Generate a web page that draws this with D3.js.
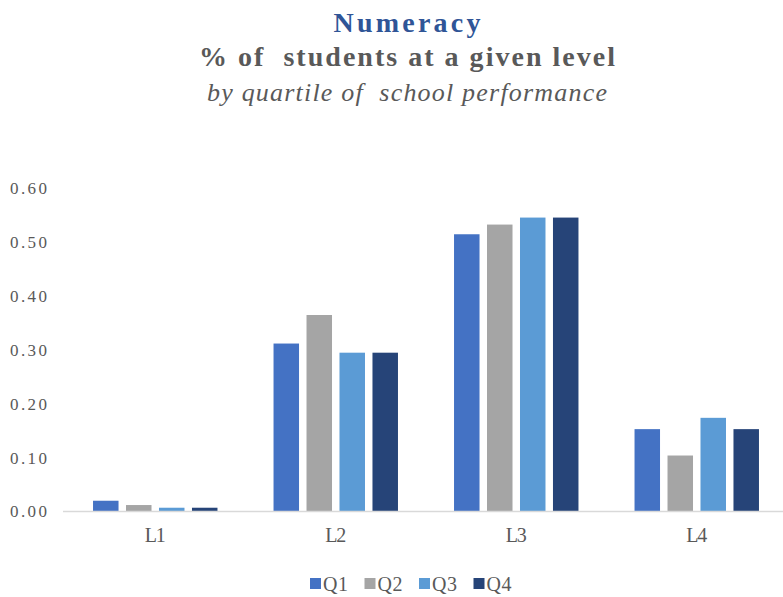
<!DOCTYPE html>
<html>
<head>
<meta charset="utf-8">
<script src="https://cdn.jsdelivr.net/npm/d3@7"></script>
<style>
  html, body { margin: 0; padding: 0; background: #fff; }
  svg { display: block; }
  svg text { font-family: "Liberation Serif", "DejaVu Serif", serif; white-space: pre; }
</style>
</head>
<body>
<svg id="chart" width="783" height="597"></svg>
<script>
// Levels on the x axis and quartile series
const levels = ["L1", "L2", "L3", "L4"];
const quartiles = ["Q1", "Q2", "Q3", "Q4"];
const q1 = [0.020, 0.312, 0.515, 0.153];
const q2 = [0.012, 0.365, 0.533, 0.104];
const q3 = [0.007, 0.295, 0.546, 0.174];
const q4 = [0.007, 0.295, 0.546, 0.153];
const yTicks = [0, 0.1, 0.2, 0.3, 0.4, 0.5, 0.6];
const colors = ["#4472C4", "#A5A5A5", "#5B9BD5", "#264478"];

const SERIF = "Liberation Serif, DejaVu Serif, serif";
const series = [q1, q2, q3, q4];
const rows = levels.map((lv, i) => ({ level: lv, values: quartiles.map((q, j) => ({ q, v: series[j][i] })) }));

const svg = d3.select("#chart");

const x = d3.scaleBand().domain(levels).range([65, 787]);
const xi = d3.scaleBand().domain(quartiles).range([0, x.bandwidth()]).paddingInner(0.227).paddingOuter(0.85);
const y = d3.scaleLinear().domain([0, 0.6]).range([511.5, 188.5]);

// Titles
function title(txt, yPos, size, opts) {
  svg.append("text").attr("x", 407).attr("y", yPos).attr("text-anchor", "middle")
    .attr("font-family", SERIF).attr("font-size", size)
    .attr("font-weight", opts.weight || "normal").attr("font-style", opts.style || "normal")
    .attr("fill", opts.fill).attr("textLength", opts.len).attr("lengthAdjust", "spacing")
    .attr("xml:space", "preserve")
    .text(txt);
}
title("Numeracy", 32, 28, { weight: "bold", fill: "#2F5597", len: 147 });
title("% of  students at a given level", 66, 28, { weight: "bold", fill: "#595959", len: 416 });
title("by quartile of  school performance", 101, 26, { style: "italic", fill: "#595959", len: 400 });

// Y axis labels (no gridlines)
const yAxis = d3.axisLeft(y).tickValues(yTicks).tickFormat(d3.format(".2f")).tickSize(0).tickPadding(0);
const gy = svg.append("g").attr("transform", "translate(47,0)").call(yAxis);
gy.attr("font-family", SERIF);
gy.select(".domain").remove();
gy.selectAll("text").attr("font-size", 17).attr("fill", "#595959")
  .attr("font-family", SERIF).attr("textLength", 37).attr("lengthAdjust", "spacing");

// Bars
const groups = svg.append("g").selectAll("g").data(rows).join("g")
  .attr("transform", d => `translate(${x(d.level)},0)`);
groups.selectAll("rect").data(d => d.values).join("rect")
  .attr("x", d => xi(d.q))
  .attr("width", xi.bandwidth())
  .attr("y", d => y(d.v))
  .attr("height", d => y(0) - y(d.v))
  .attr("fill", (d, i) => colors[i]);

// X axis baseline and category labels
svg.append("line").attr("x1", 63).attr("x2", 783).attr("y1", y(0)).attr("y2", y(0))
  .attr("stroke", "#D9D9D9").attr("stroke-width", 1.5);
const xAxis = d3.axisBottom(x).tickSize(0).tickPadding(16);
const gx = svg.append("g").attr("transform", `translate(0,${y(0)})`).call(xAxis);
gx.attr("font-family", SERIF);
gx.select(".domain").remove();
gx.selectAll("text").attr("font-size", 20).attr("fill", "#595959")
  .attr("font-family", SERIF).attr("textLength", 21).attr("lengthAdjust", "spacing");

// Legend
const legend = svg.append("g").attr("transform", "translate(310,583)");
const legendStep = 54.5;
quartiles.forEach((q, i) => {
  const g = legend.append("g").attr("transform", `translate(${i * legendStep},0)`);
  g.append("rect").attr("x", 0).attr("y", -5).attr("width", 11).attr("height", 11).attr("fill", colors[i]);
  g.append("text").attr("x", 13).attr("y", 8).attr("font-size", 20).attr("fill", "#595959")
    .attr("font-family", SERIF).attr("textLength", 25).attr("lengthAdjust", "spacing").text(q);
});
</script>
</body>
</html>
